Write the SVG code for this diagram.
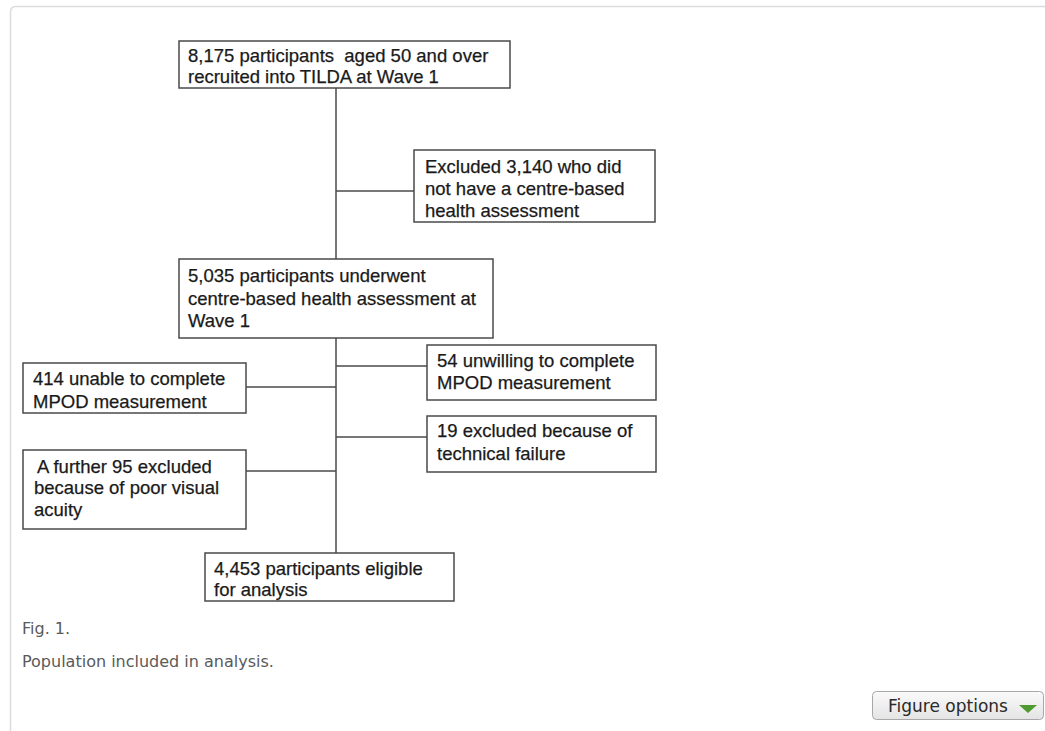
<svg xmlns="http://www.w3.org/2000/svg" width="1045" height="731" viewBox="0 0 1045 731">
<style>
.box{fill:#fff;stroke:#4a4a4a;stroke-width:1.5}
.t{font-family:"Liberation Sans",Arial,sans-serif;font-size:18.5px;fill:#1a1a1a;stroke:#1a1a1a;stroke-width:0.25}
.conn line{stroke:#4a4a4a;stroke-width:1.5}
.cap{font-family:"DejaVu Sans","Liberation Sans",sans-serif;font-size:16px;fill:#5a5a5a}
</style>
<defs>
<linearGradient id="btn" x1="0" y1="0" x2="0" y2="1">
<stop offset="0" stop-color="#fafafa"/>
<stop offset="1" stop-color="#e4e4e4"/>
</linearGradient>
</defs>
<rect width="1045" height="731" fill="#fff"/>
<path d="M10.5 731 V12 Q10.5 6.5 16 6.5 H1045" fill="none" stroke="#dcdcdc" stroke-width="1.5"/>
<g class="conn" id="connectors">
<line x1="336" y1="88" x2="336" y2="259"/>
<line x1="336" y1="191" x2="414" y2="191"/>
<line x1="336" y1="338" x2="336" y2="553"/>
<line x1="336" y1="366" x2="427" y2="366"/>
<line x1="246" y1="387" x2="336" y2="387"/>
<line x1="336" y1="437" x2="427" y2="437"/>
<line x1="246" y1="471" x2="336" y2="471"/>
</g>
<g id="n1">
<rect class="box" x="179" y="41" width="331" height="47"/>
<text class="t" x="188" y="62" xml:space="preserve">8,175 participants  aged 50 and over</text>
<text class="t" x="188" y="83">recruited into TILDA at Wave 1</text>
</g>
<g id="n2">
<rect class="box" x="414" y="150" width="241" height="72"/>
<text class="t" x="425" y="173">Excluded 3,140 who did</text>
<text class="t" x="425" y="195">not have a centre-based</text>
<text class="t" x="425" y="217">health assessment</text>
</g>
<g id="n3">
<rect class="box" x="179" y="259" width="314" height="79"/>
<text class="t" x="188" y="282">5,035 participants underwent</text>
<text class="t" x="188" y="305">centre-based health assessment at</text>
<text class="t" x="188" y="327">Wave 1</text>
</g>
<g id="n4">
<rect class="box" x="23" y="363" width="223" height="50"/>
<text class="t" x="33" y="385">414 unable to complete</text>
<text class="t" x="33" y="408">MPOD measurement</text>
</g>
<g id="n5">
<rect class="box" x="427" y="345" width="229" height="55"/>
<text class="t" x="437" y="367">54 unwilling to complete</text>
<text class="t" x="437" y="389">MPOD measurement</text>
</g>
<g id="n6">
<rect class="box" x="427" y="416" width="229" height="56"/>
<text class="t" x="437" y="437">19 excluded because of</text>
<text class="t" x="437" y="460">technical failure</text>
</g>
<g id="n7">
<rect class="box" x="23" y="450" width="223" height="79"/>
<text class="t" x="37" y="473">A further 95 excluded</text>
<text class="t" x="34" y="494">because of poor visual</text>
<text class="t" x="34" y="516">acuity</text>
</g>
<g id="n8">
<rect class="box" x="205" y="553" width="249" height="48"/>
<text class="t" x="214" y="575">4,453 participants eligible</text>
<text class="t" x="214" y="596">for analysis</text>
</g>
<text class="cap" x="22" y="634">Fig. 1.</text>
<text class="cap" x="22" y="667">Population included in analysis.</text>
<g id="figure-options">
<rect x="872.5" y="691.5" width="171" height="28" rx="4" fill="url(#btn)" stroke="#a8a8a8"/>
<text x="888" y="712" font-family="DejaVu Sans, Liberation Sans, sans-serif" font-size="17" fill="#2a2a2a">Figure options</text>
<polygon points="1019,705 1037,705 1028,713" fill="#4e9a2f"/>
</g>
</svg>
